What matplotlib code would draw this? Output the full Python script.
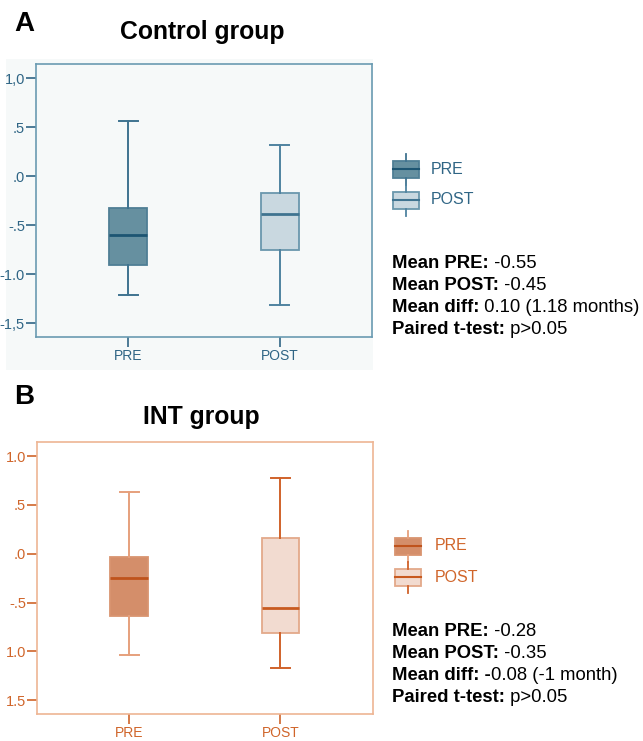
import matplotlib
matplotlib.use("Agg")
import matplotlib.pyplot as plt
from matplotlib.patches import Rectangle
from matplotlib.lines import Line2D

plt.rcParams["font.family"] = ["Liberation Sans", "DejaVu Sans"]

W, H = 643, 741

grupos = ["PRE", "POST"]

# valores de cada caja: bigote inf, Q1, mediana, Q3, bigote sup
control_pre = [-1.21, -0.91, -0.60, -0.32, 0.56]
control_post = [-1.31, -0.75, -0.39, -0.17, 0.32]
int_pre = [-1.04, -0.64, -0.25, -0.03, 0.63]
int_post = [-1.17, -0.81, -0.55, 0.16, 0.78]

ticks_y = [1.0, 0.5, 0.0, -0.5, -1.0, -1.5]
etiquetas_a = ["1,0", ".5", ".0", "-.5", "-1.0", "-1,5"]
etiquetas_b = ["1.0", ".5", ".0", "-.5", "1.0", "1.5"]

texto_a = [("Mean PRE:", " -0.55"), ("Mean POST:", " -0.45"),
           ("Mean diff:", " 0.10 (1.18 months)"), ("Paired t-test:", " p>0.05")]
texto_b = [("Mean PRE:", " -0.28"), ("Mean POST:", " -0.35"),
           ("Mean diff: -", "0.08 (-1 month)"), ("Paired t-test:", " p>0.05")]

# colores
azul = dict(frame="#6a9bb2", tick="#2f6585", fill=["#6690a0", "#c9d8e0"],
            edge=["#4f7f95", "#6a97ad"], med=["#1d5572", "#3f7390"],
            whisk=["#3f7390", "#4f83a0"], bg="#f6f9f9")
naranja = dict(frame="#eeb594", tick="#d0652a", fill=["#d48e6a", "#f2dbd0"],
               edge=["#d99470", "#e3a98a"], med=["#bf531c", "#c85a20"],
               whisk=["#e6a07c", "#d0622a"], bg="white")


def px(x, y):
    return x / W, 1 - y / H


fig = plt.figure(figsize=(W / 100, H / 100), dpi=100)

# fondo gris claro del panel A
x0, y0 = px(6, 370)
fig.add_artist(Rectangle((x0, y0), 366.7 / W, 311 / H, transform=fig.transFigure,
                         facecolor=azul["bg"], edgecolor="none", zorder=0))


def panel(rect, datos, etiquetas, col):
    ax = fig.add_axes(rect)
    ax.set_facecolor(col["bg"])
    stats = []
    for nombre, v in zip(grupos, datos):
        stats.append(dict(label=nombre, whislo=v[0], q1=v[1], med=v[2], q3=v[3],
                          whishi=v[4], fliers=[]))
    bp = ax.bxp(stats, positions=[1, 2], widths=0.25, capwidths=0.125,
                patch_artist=True, showfliers=False)
    for i in range(2):
        bp["boxes"][i].set(facecolor=col["fill"][i], edgecolor=col["edge"][i], linewidth=1.3)
        bp["medians"][i].set(color=col["med"][i], linewidth=2)
        for ln in bp["whiskers"][2 * i:2 * i + 2] + bp["caps"][2 * i:2 * i + 2]:
            ln.set(color=col["whisk"][i], linewidth=1.4)
    ax.set_xlim(0.39, 2.61)
    ax.set_ylim(-1.64, 1.145)
    ax.set_yticks(ticks_y)
    ax.set_yticklabels(etiquetas)
    ax.set_xticks([1, 2])
    ax.set_xticklabels(grupos)
    for s in ax.spines.values():
        s.set_color(col["frame"])
        s.set_linewidth(1.2)
    ax.tick_params(axis="y", colors=col["tick"], length=7, width=1.2, labelsize=10.5, pad=1)
    ax.tick_params(axis="x", colors=col["tick"], length=7, width=1.2, labelsize=10, pad=1.5)
    for t in ax.get_xticklabels() + ax.get_yticklabels():
        t.set_color(col["tick"])
    return ax


ax_a = panel([36 / W, 1 - 337 / H, 336 / W, 273 / H], [control_pre, control_post], etiquetas_a, azul)
ax_b = panel([37 / W, 1 - 714 / H, 335.7 / W, 272 / H], [int_pre, int_post], etiquetas_b, naranja)

# letras y titulos
fig.text(*px(14, 24), "A", fontsize=20, fontweight="bold", va="center", ha="left")
fig.text(*px(202.5, 32), "Control group", fontsize=17.8, fontweight="bold", va="center", ha="center")
fig.text(*px(14, 397), "B", fontsize=20, fontweight="bold", va="center", ha="left")
fig.text(*px(201, 417), "INT group", fontsize=17.8, fontweight="bold", va="center", ha="center")


def icono(xl, yc, col, i):
    w, h = 26, 17
    bx, by = px(xl, yc + h / 2)
    fig.add_artist(Rectangle((bx, by), w / W, h / H, transform=fig.transFigure,
                             facecolor=col["fill"][i], edgecolor=col["edge"][i], linewidth=1.3))
    xm = xl + w / 2
    for ya, yb in [(yc - h / 2 - 7, yc - h / 2), (yc + h / 2, yc + h / 2 + 7)]:
        a, b = px(xm, ya), px(xm, yb)
        fig.add_artist(Line2D([a[0], b[0]], [a[1], b[1]], transform=fig.transFigure,
                              color=col["whisk"][i], linewidth=1.3))
    a, b = px(xl, yc), px(xl + w, yc)
    fig.add_artist(Line2D([a[0], b[0]], [a[1], b[1]], transform=fig.transFigure,
                          color=col["med"][i], linewidth=1.5))


def leyenda(x_icono, x_texto, ys, col):
    for i, (nombre, y) in enumerate(zip(grupos, ys)):
        icono(x_icono, y, col, i)
        fig.text(*px(x_texto, y), nombre, fontsize=11.5, color=col["tick"], va="center", ha="left")


leyenda(393, 431, [169, 200], azul)
leyenda(395, 435, [546, 577], naranja)

# textos de estadisticas (parte en negrita + parte normal)
fig.canvas.draw()
renderer = fig.canvas.get_renderer()


def bloque(x, ys, lineas):
    for (neg, normal), y in zip(lineas, ys):
        t = fig.text(*px(x, y), neg, fontsize=13.3, fontweight="bold", va="center", ha="left")
        bb = t.get_window_extent(renderer)
        fig.text(bb.x1 / W, 1 - y / H, normal, fontsize=13.3, va="center", ha="left")


bloque(392, [263, 285, 307, 329], texto_a)
bloque(392, [632, 654, 676, 698], texto_b)

fig.savefig("out.png", dpi=100)
